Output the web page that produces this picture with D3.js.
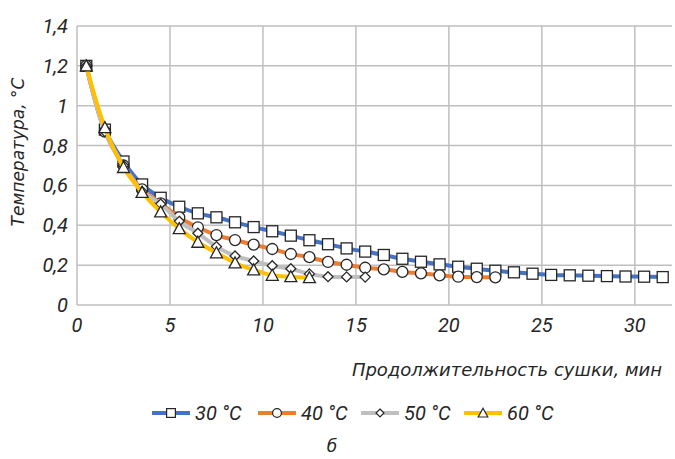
<!DOCTYPE html>
<html>
<head>
<meta charset="utf-8">
<script src="https://cdn.jsdelivr.net/npm/d3@7"></script>
<style>
  body { margin: 0; background: #fff; }
  text { font-style: italic; fill: #262626; }
  .num { font-family: "Liberation Sans Narrow", Roboto, sans-serif; }
  .ttl { font-family: "DejaVu Sans", sans-serif; }
</style>
</head>
<body>
<div id="chart_div"></div>
<script>

// values, one point per minute (x = 0.5, 1.5, ...)
let series_names = ["30 °C", "40 °C", "50 °C", "60 °C"]
let series_colors = ["#4472C4", "#ED7D31", "#BFBFBF", "#FFC000"]
let series_markers = ["square", "circle", "diamond", "triangle"]

let t30 = [1.2, 0.88, 0.72, 0.605, 0.538, 0.493, 0.46, 0.44, 0.415, 0.391, 0.37, 0.348, 0.325, 0.305,
  0.284, 0.268, 0.251, 0.232, 0.217, 0.204, 0.192, 0.182, 0.172, 0.164, 0.157, 0.151, 0.149, 0.147,
  0.145, 0.143, 0.142, 0.14]
let t40 = [1.2, 0.87, 0.7, 0.58, 0.51, 0.44, 0.39, 0.351, 0.326, 0.303, 0.281, 0.256, 0.24, 0.216,
  0.202, 0.187, 0.179, 0.166, 0.159, 0.149, 0.142, 0.14, 0.139]
let t50 = [1.2, 0.87, 0.7, 0.57, 0.507, 0.42, 0.36, 0.293, 0.246, 0.221, 0.197, 0.182, 0.156, 0.142,
  0.141, 0.14]
let t60 = [1.2, 0.89, 0.69, 0.565, 0.467, 0.383, 0.315, 0.262, 0.211, 0.176, 0.149, 0.142, 0.137]

let x_ticks = [0, 5, 10, 15, 20, 25, 30]
let y_ticks = [0, 0.2, 0.4, 0.6, 0.8, 1, 1.2, 1.4]

let x_title = "Продолжительность сушки, мин"
let y_title = "Температура, °C"
let caption = "б"

let width = 675
let height = 459

let svg = d3.select("#chart_div")
  .append("svg")
  .attr("width", width)
  .attr("height", height)

let x = d3.scaleLinear().domain([0, 32]).range([77, 672])
let y = d3.scaleLinear().domain([0, 1.4]).range([305, 26])

let fmt = d => String(d).replace(".", ",")

// grid
svg.append("g")
  .selectAll("line")
  .data(y_ticks)
  .join("line")
  .attr("x1", x(0)).attr("x2", x(32))
  .attr("y1", d => y(d)).attr("y2", d => y(d))
  .attr("stroke", "#BFBFBF").attr("stroke-width", 1.5)

svg.append("g")
  .selectAll("line")
  .data(x_ticks)
  .join("line")
  .attr("x1", d => x(d)).attr("x2", d => x(d))
  .attr("y1", y(0)).attr("y2", y(1.4))
  .attr("stroke", "#BFBFBF").attr("stroke-width", 1.5)

// tick labels
svg.append("g")
  .selectAll("text")
  .data(y_ticks)
  .join("text")
  .attr("class", "num")
  .attr("x", 68)
  .attr("y", d => y(d) + 7)
  .attr("text-anchor", "end")
  .attr("font-size", 20)
  .text(fmt)

svg.append("g")
  .selectAll("text")
  .data(x_ticks)
  .join("text")
  .attr("class", "num")
  .attr("x", d => x(d))
  .attr("y", 332)
  .attr("text-anchor", "middle")
  .attr("font-size", 20)
  .text(d => d)

// axis titles
svg.append("text")
  .attr("class", "ttl")
  .attr("transform", "translate(24,152) rotate(-90)")
  .attr("text-anchor", "middle")
  .attr("font-size", 17)
  .text(y_title)

svg.append("text")
  .attr("class", "ttl")
  .attr("x", 662)
  .attr("y", 376)
  .attr("text-anchor", "end")
  .attr("font-size", 18)
  .text(x_title)

function drawMarker(g, type, cx, cy, k){
  if(type == "square"){
    g.append("rect").attr("x", cx - 5.5*k).attr("y", cy - 5.5*k).attr("width", 11*k).attr("height", 11*k)
  } else if(type == "circle"){
    g.append("circle").attr("cx", cx).attr("cy", cy).attr("r", 5.5*k)
  } else if(type == "diamond"){
    g.append("path").attr("d", `M${cx},${cy-5*k}L${cx+5*k},${cy}L${cx},${cy+5*k}L${cx-5*k},${cy}Z`)
  } else {
    g.append("path").attr("d", `M${cx},${cy-6*k}L${cx+6*k},${cy+5*k}L${cx-6*k},${cy+5*k}Z`)
  }
}

let all_series = [t30, t40, t50, t60]

all_series.forEach((vals, s) => {
  let pts = vals.map((v, i) => [i + 0.5, v])
  svg.append("path")
    .datum(pts)
    .attr("fill", "none")
    .attr("stroke", series_colors[s])
    .attr("stroke-width", 4)
    .attr("d", d3.line()
      .curve(d3.curveCatmullRom)
      .x(d => x(d[0]))
      .y(d => y(d[1])))

  let g = svg.append("g")
    .attr("fill", "white")
    .attr("stroke", "#262626")
    .attr("stroke-width", 1.3)
  pts.forEach(p => drawMarker(g, series_markers[s], x(p[0]), y(p[1]), 1))
})

// legend
let lx = [152, 258, 361, 464]
series_names.forEach((name, s) => {
  let g = svg.append("g")
  g.append("line")
    .attr("x1", lx[s]).attr("x2", lx[s] + 38)
    .attr("y1", 413).attr("y2", 413)
    .attr("stroke", series_colors[s]).attr("stroke-width", 4)
  let mg = g.append("g").attr("fill", "white").attr("stroke", "#262626").attr("stroke-width", 1.2)
  drawMarker(mg, series_markers[s], lx[s] + 19, 413, 0.8)
  g.append("text")
    .attr("class", "num")
    .attr("x", lx[s] + 43)
    .attr("y", 420)
    .attr("font-size", 20)
    .text(name)
})

svg.append("text")
  .attr("class", "ttl")
  .attr("x", 332)
  .attr("y", 452)
  .attr("text-anchor", "middle")
  .attr("font-size", 17)
  .text(caption)

</script>
</body>
</html>
